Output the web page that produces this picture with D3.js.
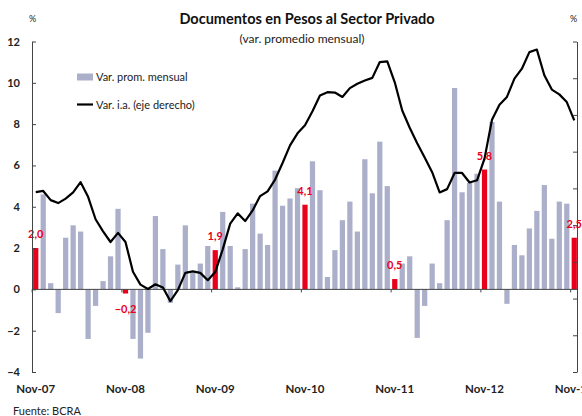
<!DOCTYPE html>
<html>
<head>
<meta charset="utf-8">
<script src="https://cdn.jsdelivr.net/npm/d3@7"></script>
<style>
  body { margin: 0; background: #fff; }
  text { font-family: "Lato", "Open Sans", sans-serif; }
</style>
</head>
<body>
<div id="chart"></div>
<script>
// Documentos en pesos - meses Nov-07 a Nov-13
const months = [
  "Nov-07","Dic-07",
  "Ene-08","Feb-08","Mar-08","Abr-08","May-08","Jun-08","Jul-08","Ago-08","Sep-08","Oct-08","Nov-08","Dic-08",
  "Ene-09","Feb-09","Mar-09","Abr-09","May-09","Jun-09","Jul-09","Ago-09","Sep-09","Oct-09","Nov-09","Dic-09",
  "Ene-10","Feb-10","Mar-10","Abr-10","May-10","Jun-10","Jul-10","Ago-10","Sep-10","Oct-10","Nov-10","Dic-10",
  "Ene-11","Feb-11","Mar-11","Abr-11","May-11","Jun-11","Jul-11","Ago-11","Sep-11","Oct-11","Nov-11","Dic-11",
  "Ene-12","Feb-12","Mar-12","Abr-12","May-12","Jun-12","Jul-12","Ago-12","Sep-12","Oct-12","Nov-12","Dic-12",
  "Ene-13","Feb-13","Mar-13","Abr-13","May-13","Jun-13","Jul-13","Ago-13","Sep-13","Oct-13","Nov-13"
];

// var. promedio mensual (eje izquierdo)
const varMensual = [
  2.0, 4.6,
  0.3, -1.15, 2.5, 3.1, 2.8, -2.4, -0.8, 0.4, 1.6, 3.9, -0.2, -2.4,
  -3.35, -2.1, 3.55, 1.95, -0.65, 1.2, 3.1, 0.8, 1.25, 2.1, 1.9, 3.75,
  2.1, 0.1, 1.95, 4.15, 2.7, 2.15, 5.75, 4.05, 4.4, 4.9, 4.1, 6.2,
  4.8, 0.6, 1.9, 3.35, 4.25, 2.8, 6.3, 4.65, 7.15, 5.0, 0.5, 1.25,
  1.6, -2.35, -0.8, 1.25, 0.3, 3.35, 9.75, 4.7, 5.15, 5.6, 5.8, 8.1,
  4.25, -0.7, 2.15, 1.65, 2.95, 3.8, 5.05, 2.45, 4.25, 4.15, 2.5
];

// var. i.a. (eje derecho)
const varIA = [
  29.0, 29.3,
  26.8, 26.0, 27.2, 28.9, 31.7, 27.7, 21.6, 18.3, 15.4, 17.9, 15.4, 7.3,
  3.8, 2.6, 3.9, 3.0, -0.7, 2.3, 7.0, 7.4, 7.0, 5.0, 7.2, 13.4,
  20.4, 23.2, 21.1, 24.0, 27.9, 29.2, 32.4, 36.9, 41.7, 45.0, 47.2, 51.0,
  55.3, 56.2, 56.1, 54.9, 57.3, 58.5, 59.4, 60.1, 64.4, 64.6, 58.9, 51.2,
  46.5, 42.3, 38.4, 34.4, 28.9, 29.8, 34.2, 34.2, 31.6, 32.2, 38.1, 48.7,
  52.8, 54.9, 59.9, 62.6, 67.1, 67.8, 60.8, 56.9, 55.6, 53.5, 48.5
];

const xTickLabels = ["Nov-07","Nov-08","Nov-09","Nov-10","Nov-11","Nov-12","Nov-13"];
const leftTicks = [-4, -2, 0, 2, 4, 6, 8, 10, 12];
const rightTicks = [-20, -10, 0, 10, 20, 30, 40, 50, 60, 70];

const width = 582, height = 416;
const plotLeft = 32, plotRight = 577, plotTop = 41.5, plotBottom = 372;

const svg = d3.select("#chart").append("svg")
  .attr("width", width)
  .attr("height", height);

svg.append("rect").attr("width", width).attr("height", height).attr("fill", "#fff");

const x = d3.scaleBand()
  .domain(months)
  .range([plotLeft, plotRight + 1])
  .paddingInner(0.3)
  .paddingOuter(0.15);

const yL = d3.scaleLinear().domain([-4, 12]).range([plotBottom, plotTop]);
const yR = d3.scaleLinear().domain([-20, 70]).range([plotBottom, plotTop]);

const fmt = d3.formatLocale({ decimal: ",", thousands: ".", grouping: [3], currency: ["$", ""] }).format(".1f");

// titulo
svg.append("text")
  .attr("x", 307).attr("y", 24)
  .attr("text-anchor", "middle")
  .style("font-size", "14.5px").style("font-weight", "bold").attr("fill", "#111")
  .text("Documentos en Pesos al Sector Privado");

svg.append("text")
  .attr("x", 302).attr("y", 43)
  .attr("text-anchor", "middle")
  .style("font-size", "12px").attr("fill", "#222")
  .text("(var. promedio mensual)");

svg.append("text").attr("x", 29).attr("y", 22)
  .style("font-size", "9px").attr("fill", "#222").text("%");
svg.append("text").attr("x", 570).attr("y", 22)
  .style("font-size", "9px").attr("fill", "#222").text("%");

// barras
const isNov = (d, i) => i % 12 === 0;

svg.selectAll("rect.bar")
  .data(varMensual)
  .enter()
  .append("rect")
  .attr("class", "bar")
  .attr("x", (d, i) => x(months[i]))
  .attr("width", x.bandwidth())
  .attr("y", d => yL(Math.max(0, d)))
  .attr("height", d => Math.abs(yL(d) - yL(0)))
  .attr("fill", (d, i) => isNov(d, i) ? "#e8001c" : "#abafc9");

// etiquetas rojas
svg.selectAll("text.val")
  .data(varMensual.map((v, i) => ({ v, i })).filter(d => d.i % 12 === 0))
  .enter()
  .append("text")
  .attr("class", "val")
  .attr("x", d => x(months[d.i]) + x.bandwidth() / 2)
  .attr("y", d => d.v >= 0 ? yL(d.v) - 10 : yL(d.v) + 19)
  .attr("text-anchor", "middle")
  .style("font-size", "11px").style("font-weight", "bold")
  .attr("fill", "#e8001c")
  .text(d => fmt(d.v));

// linea cero y ticks de noviembre
svg.append("line")
  .attr("x1", plotLeft).attr("x2", plotRight)
  .attr("y1", yL(0)).attr("y2", yL(0))
  .attr("stroke", "#444").attr("stroke-width", 1);

svg.selectAll("line.xt")
  .data(xTickLabels)
  .enter()
  .append("line")
  .attr("class", "xt")
  .attr("x1", d => x(d) - 1).attr("x2", d => x(d) - 1)
  .attr("y1", yL(0)).attr("y2", yL(0) + 3)
  .attr("stroke", "#444");

svg.selectAll("text.xl")
  .data(xTickLabels)
  .enter()
  .append("text")
  .attr("class", "xl")
  .attr("x", d => x(d) + x.bandwidth() / 2)
  .attr("y", 393)
  .attr("text-anchor", "middle")
  .style("font-size", "11.5px").style("font-weight", "bold").attr("fill", "#222")
  .text(d => d);

// linea var. i.a.
const line = d3.line()
  .x((d, i) => x(months[i]) + x.bandwidth() / 2)
  .y(d => yR(d));

svg.append("path")
  .datum(varIA)
  .attr("d", line)
  .attr("fill", "none")
  .attr("stroke", "#000")
  .attr("stroke-width", 2.2)
  .attr("stroke-linejoin", "round");

// ejes
const axL = svg.append("g")
  .attr("transform", `translate(${plotLeft},0)`)
  .call(d3.axisLeft(yL).tickValues(leftTicks).tickSizeInner(-4).tickSizeOuter(0).tickPadding(12).tickFormat(d3.format("d")));
axL.select(".domain").attr("stroke", "#444");
axL.selectAll(".tick line").attr("stroke", "#444");
axL.selectAll("text")
  .style("font-size", "11px").style("font-weight", "bold")
  .style("font-family", "Lato, sans-serif").attr("fill", "#222");

// eje derecho: las etiquetas quedan fuera del recuadro en el original
const axR = svg.append("g")
  .attr("transform", `translate(${plotRight},0)`)
  .call(d3.axisRight(yR).tickValues(rightTicks).tickSizeInner(-4).tickSizeOuter(0).tickFormat(""));
axR.select(".domain").attr("stroke", "#444");
axR.selectAll(".tick line").attr("stroke", "#444");

// leyenda
svg.append("rect")
  .attr("x", 77).attr("y", 73.5).attr("width", 16).attr("height", 7)
  .attr("fill", "#abafc9");
svg.append("text").attr("x", 96).attr("y", 81)
  .style("font-size", "11px").attr("fill", "#222").text("Var. prom. mensual");

svg.append("line")
  .attr("x1", 77).attr("x2", 93).attr("y1", 104.5).attr("y2", 104.5)
  .attr("stroke", "#000").attr("stroke-width", 2.2);
svg.append("text").attr("x", 96).attr("y", 109)
  .style("font-size", "11px").attr("fill", "#222").text("Var. i.a. (eje derecho)");

svg.append("text").attr("x", 13).attr("y", 415)
  .style("font-size", "11px").attr("fill", "#222").text("Fuente: BCRA");
</script>
</body>
</html>
